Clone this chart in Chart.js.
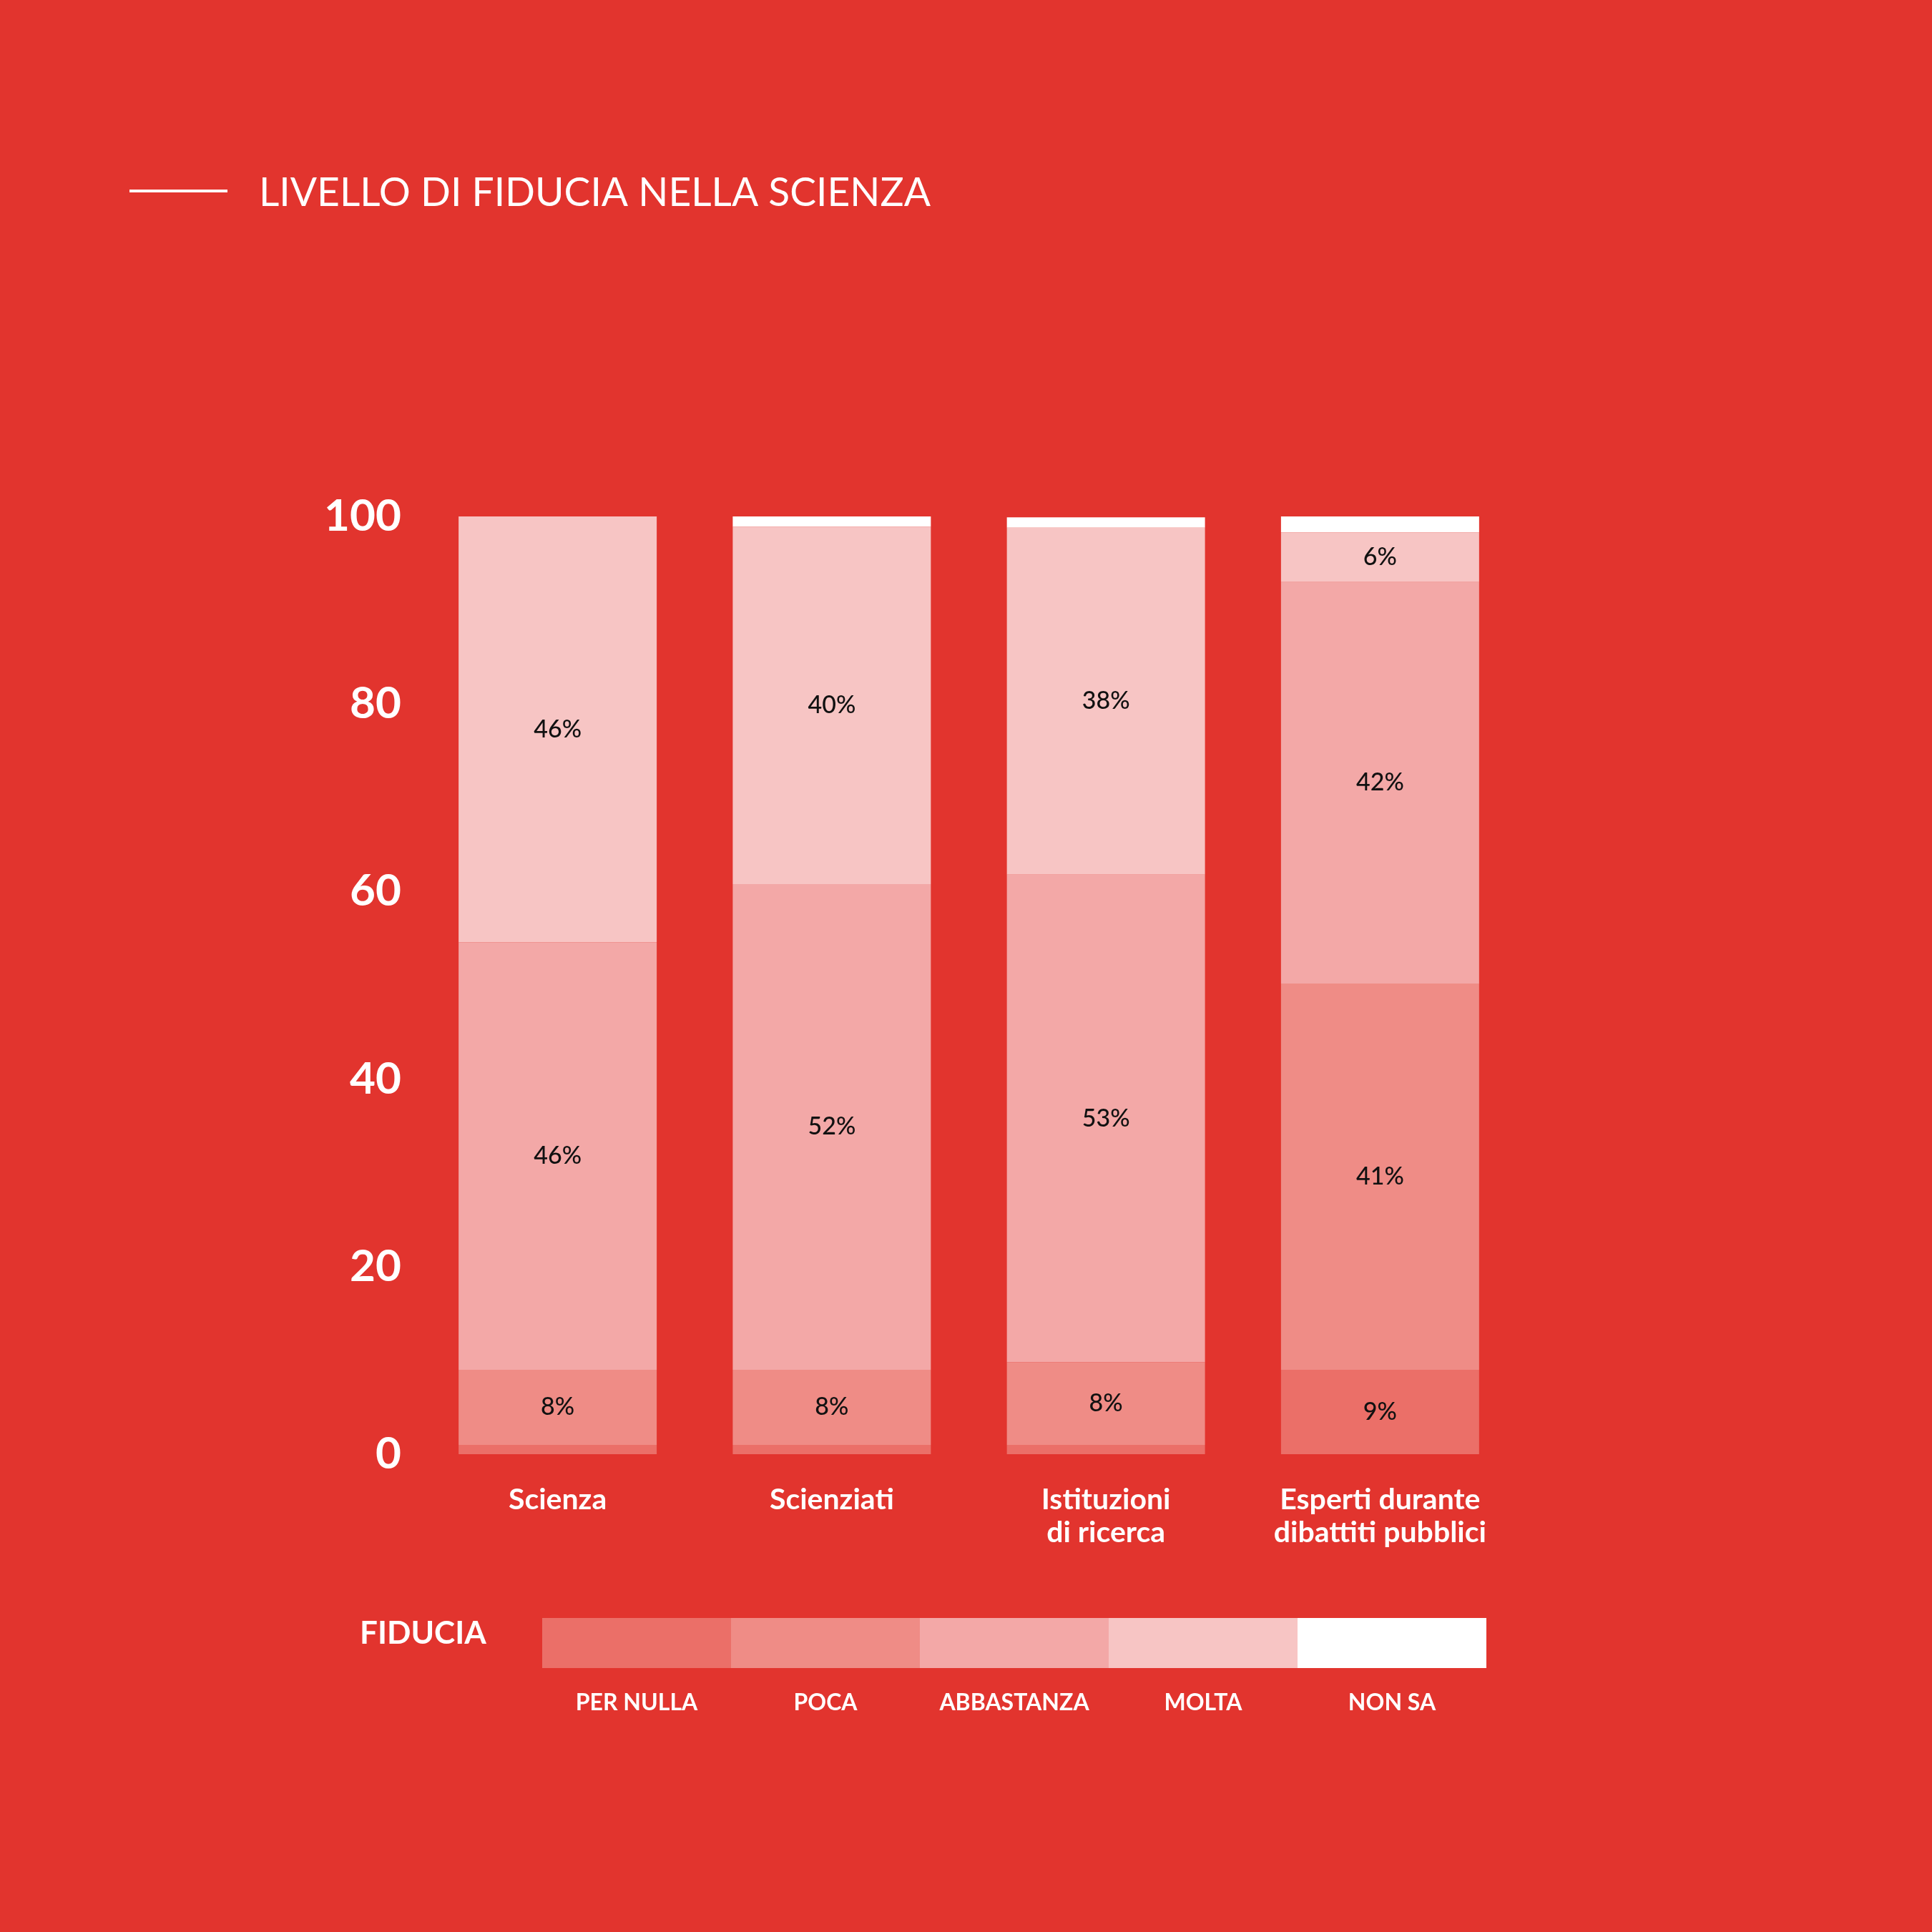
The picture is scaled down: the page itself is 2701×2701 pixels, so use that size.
<!DOCTYPE html>
<html>
<head>
<meta charset="utf-8">
<style>
  html, body { margin: 0; padding: 0; background: #e2342e; }
  canvas { display: block; }
</style>
<script src="https://cdn.jsdelivr.net/npm/chart.js@4.4.1/dist/chart.umd.min.js"></script>
</head>
<body>
<canvas id="fiduciaChart" width="2701" height="2701" style="width:2701px;height:2701px"></canvas>
<script>
// categorie e valori (percentuali)
let categories = ['Scienza', 'Scienziati', ['Istituzioni', 'di ricerca'], ['Esperti durante', 'dibattiti pubblici']];
let seriesNames = ['PER NULLA', 'POCA', 'ABBASTANZA', 'MOLTA', 'NON SA'];

let perNulla   = [1, 1, 1, 9];
let poca       = [8, 8, 8.8, 41.2];
let abbastanza = [45.6, 51.8, 52, 42.8];
let molta      = [45.4, 38.1, 37, 5.3];
let nonSa      = [0, 1.1, 1.1, 1.7];

// etichette stampate dentro le barre
let perNullaLabels   = [null, null, null, '9%'];
let pocaLabels       = ['8%', '8%', '8%', '41%'];
let abbastanzaLabels = ['46%', '52%', '53%', '42%'];
let moltaLabels      = ['46%', '40%', '38%', '6%'];
let nonSaLabels      = [null, null, null, null];

let yTicks = [0, 20, 40, 60, 80, 100];

let colors = ['#eb6f68', '#ef8c86', '#f3a8a7', '#f7c5c4', '#ffffff'];
let FONT = 'Lato, "Open Sans", sans-serif';

let seriesData = [perNulla, poca, abbastanza, molta, nonSa];
let seriesLabels = [perNullaLabels, pocaLabels, abbastanzaLabels, moltaLabels, nonSaLabels];

const background = {
    id: 'background',
    beforeDraw(chart) {
        const c = chart.ctx;
        c.save();
        c.fillStyle = '#e2342e';
        c.fillRect(0, 0, chart.width, chart.height);
        c.restore();
    }
};

const segmentLabels = {
    id: 'segmentLabels',
    afterDatasetsDraw(chart) {
        const c = chart.ctx;
        c.save();
        c.font = '500 34px ' + FONT;
        c.fillStyle = '#111111';
        c.textAlign = 'center';
        c.textBaseline = 'middle';
        chart.data.datasets.forEach((ds, i) => {
            const meta = chart.getDatasetMeta(i);
            meta.data.forEach((bar, j) => {
                const txt = seriesLabels[i][j];
                if (!txt) return;
                c.fillText(txt, bar.x, (bar.y + bar.base) / 2);
            });
        });
        c.restore();
    }
};

const titleAndLegend = {
    id: 'titleAndLegend',
    afterDraw(chart) {
        const c = chart.ctx;
        c.save();

        // titolo
        c.strokeStyle = '#ffffff';
        c.lineWidth = 4;
        c.beginPath();
        c.moveTo(181, 267);
        c.lineTo(318, 267);
        c.stroke();
        c.fillStyle = '#ffffff';
        c.font = '400 56px ' + FONT;
        c.textAlign = 'left';
        c.textBaseline = 'alphabetic';
        c.fillText('LIVELLO DI FIDUCIA NELLA SCIENZA', 362, 288, 939);

        // legenda
        c.font = '700 44px ' + FONT;
        c.fillText('FIDUCIA', 503, 2298);
        const boxW = 264, boxH = 70, left = 758, top = 2262;
        c.textAlign = 'center';
        c.font = '700 32px ' + FONT;
        chart.data.datasets.forEach((ds, i) => {
            const x = left + i * boxW;
            c.fillStyle = ds.backgroundColor;
            c.fillRect(x, top, boxW, boxH);
            c.fillStyle = '#ffffff';
            c.fillText(ds.label, x + boxW / 2, 2391);
        });
        c.restore();
    }
};

let ctx = document.getElementById('fiduciaChart').getContext('2d');
let chart = new Chart(ctx, {
    type: 'bar',
    data: {
        labels: categories,
        datasets: seriesNames.map((name, i) => ({
            label: name,
            data: seriesData[i],
            backgroundColor: colors[i],
            borderWidth: 0,
            categoryPercentage: 1,
            barPercentage: 0.7227
        }))
    },
    options: {
        responsive: false,
        animation: false,
        devicePixelRatio: 1,
        layout: { padding: { left: 0, top: 722, right: 580, bottom: 468 } },
        plugins: {
            legend: { display: false },
            title: { display: false },
            tooltip: { enabled: false }
        },
        scales: {
            x: {
                stacked: true,
                grid: { display: false, drawTicks: false },
                border: { display: false },
                ticks: {
                    color: '#ffffff',
                    padding: 41,
                    font: { family: FONT, size: 41, weight: '700', lineHeight: 1.12 },
                    maxRotation: 0,
                    autoSkip: false
                },
                afterFit(scale) { scale.height = 200; }
            },
            y: {
                stacked: true,
                min: 0,
                max: 100,
                afterBuildTicks(scale) { scale.ticks = yTicks.map(v => ({ value: v })); },
                grid: { display: false, drawTicks: false },
                border: { display: false },
                ticks: {
                    color: '#ffffff',
                    padding: 27,
                    font: { family: FONT, size: 62, weight: '700' }
                },
                afterFit(scale) { scale.width = 588; }
            }
        }
    },
    plugins: [background, segmentLabels, titleAndLegend]
});
</script>
</body>
</html>
